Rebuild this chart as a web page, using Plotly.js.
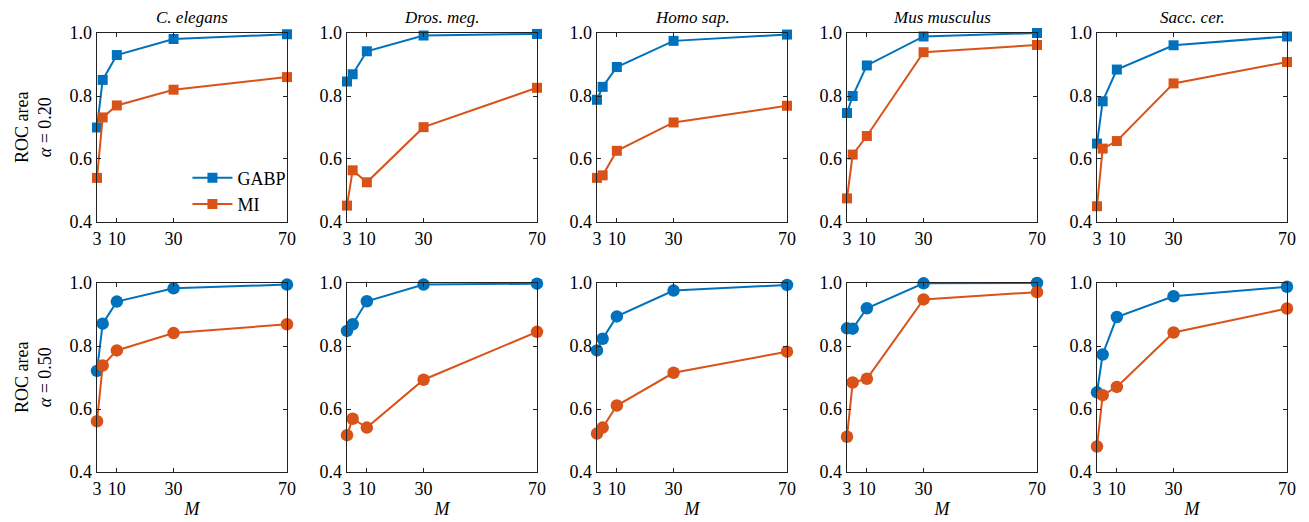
<!DOCTYPE html>
<html><head><meta charset="utf-8">
<script src="https://cdn.plot.ly/plotly-3.0.1.min.js"></script>
<style>body{margin:0;background:#fff}#g{width:1309px;height:522px}</style>
</head><body><div id="g"></div>
<script>
const M = [3, 5, 10, 30, 70];
const species = ["C. elegans", "Dros. meg.", "Homo sap.", "Mus musculus", "Sacc. cer."];
const alphaLabels = ["0.20", "0.50"];
const tickVals = [3, 10, 30, 70];
// alpha = 0.20
const gabp020 = [
  [0.700, 0.851, 0.930, 0.981, 0.996],
  [0.846, 0.869, 0.942, 0.992, 0.997],
  [0.788, 0.829, 0.892, 0.975, 0.995],
  [0.746, 0.800, 0.897, 0.989, 1.000],
  [0.649, 0.783, 0.884, 0.961, 0.989]
];
const mi020 = [
  [0.540, 0.732, 0.770, 0.820, 0.860],
  [0.452, 0.564, 0.526, 0.701, 0.826],
  [0.540, 0.548, 0.626, 0.716, 0.769],
  [0.475, 0.614, 0.673, 0.939, 0.962],
  [0.450, 0.633, 0.657, 0.840, 0.908]
];
// alpha = 0.50
const gabp050 = [
  [0.721, 0.871, 0.941, 0.983, 0.995],
  [0.848, 0.869, 0.942, 0.995, 0.998],
  [0.786, 0.823, 0.894, 0.976, 0.994],
  [0.856, 0.855, 0.920, 0.999, 1.000],
  [0.653, 0.773, 0.892, 0.958, 0.988]
];
const mi050 = [
  [0.561, 0.738, 0.786, 0.841, 0.869],
  [0.517, 0.569, 0.541, 0.693, 0.845],
  [0.522, 0.541, 0.611, 0.715, 0.782],
  [0.512, 0.684, 0.696, 0.948, 0.971],
  [0.481, 0.644, 0.670, 0.843, 0.919]
];

const BLUE = "#0072BD", ORANGE = "#D95319";
const FONT = "Liberation Serif";
const rows = [[gabp020, mi020, "square", 10], [gabp050, mi050, "circle", 12.5]];
const traces = [];
const layout = {
  width: 1309, height: 522,
  margin: {l: 97, r: 22, t: 33, b: 50},
  paper_bgcolor: "#fff", plot_bgcolor: "#fff",
  font: {family: FONT, size: 16, color: "#000"},
  showlegend: true,
  legend: {x: 0.076, y: 0.712, xanchor: "left", yanchor: "top", bgcolor: "rgba(0,0,0,0)",
           font: {family: FONT, size: 18, color: "#000"}, tracegroupgap: 0, itemwidth: 40},
  annotations: []
};
const W = 190/1190, STEP = 250/1190;
const rowDom = [[0.5695, 1], [0, 0.4305]];
let k = 0;
for (let r = 0; r < 2; r++) {
  const [G, Mi, sym, sz] = rows[r];
  for (let c = 0; c < 5; c++) {
    k++;
    const xa = "x" + (k === 1 ? "" : k), ya = "y" + (k === 1 ? "" : k);
    traces.push({x: M, y: G[c], xaxis: xa, yaxis: ya, mode: "lines+markers", name: "GABP",
      line: {color: BLUE, width: 2}, marker: {symbol: sym, size: sz, color: BLUE},
      showlegend: k === 1, cliponaxis: false});
    traces.push({x: M, y: Mi[c], xaxis: xa, yaxis: ya, mode: "lines+markers", name: "MI",
      line: {color: ORANGE, width: 2}, marker: {symbol: sym, size: sz, color: ORANGE},
      showlegend: k === 1, cliponaxis: false});
    const axBase = {showline: true, mirror: "ticks", linecolor: "#222", linewidth: 1.3,
      ticks: "inside", ticklen: 4, tickcolor: "#222", showgrid: false, zeroline: false,
      tickfont: {family: FONT, size: 18, color: "#000"}};
    layout["xaxis" + (k === 1 ? "" : k)] = Object.assign({}, axBase, {
      domain: [c*STEP, c*STEP + W], range: [3, 70], tickvals: tickVals,
      ticktext: tickVals.map(String), anchor: ya,
      title: r === 1 ? {text: "<i>M</i>", font: {family: FONT, size: 18}, standoff: 4} : {text: ""}
    });
    layout["yaxis" + (k === 1 ? "" : k)] = Object.assign({}, axBase, {
      domain: rowDom[r], range: [0.4, 1.0], tickvals: [0.4, 0.6, 0.8, 1.0],
      ticktext: ["0.4", "0.6", "0.8", "1.0"], anchor: xa
    });
    if (r === 0) {
      layout.annotations.push({text: "<i>" + species[c] + "</i>", xref: "paper", yref: "paper",
        x: c*STEP + W/2, y: 1, yshift: 4, xanchor: "center", yanchor: "bottom", showarrow: false,
        font: {family: FONT, size: 17, color: "#000"}});
    }
  }
  layout.annotations.push({text: "ROC area<br><i>α</i> = " + alphaLabels[r], xref: "paper", yref: "paper",
    x: 0, xshift: -40, y: (rowDom[r][0] + rowDom[r][1]) / 2, xanchor: "right", yanchor: "middle",
    textangle: -90, showarrow: false, align: "center",
    font: {family: FONT, size: 18, color: "#000"}});
}
Plotly.newPlot("g", traces, layout, {displayModeBar: false, staticPlot: true});
</script></body></html>
